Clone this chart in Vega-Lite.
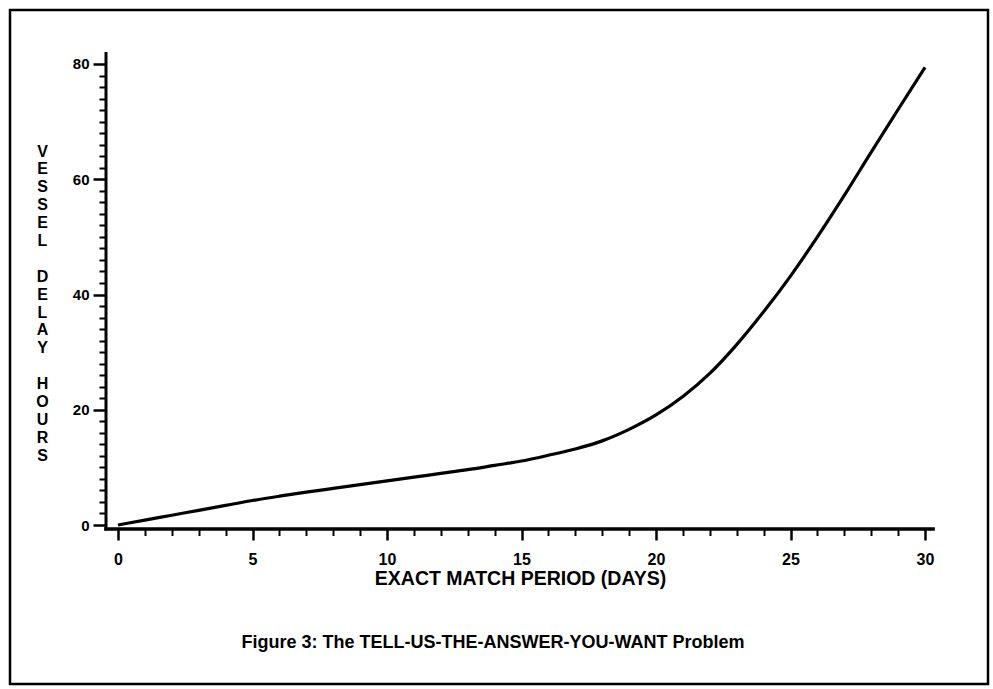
{
  "$schema": "https://vega.github.io/schema/vega-lite/v6.json",
  "width": 978,
  "height": 674,
  "autosize": {"type": "none"},
  "padding": {"left": 10, "top": 10, "right": 5, "bottom": 5},
  "background": "white",
  "title": {
    "text": "Figure 3: The TELL-US-THE-ANSWER-YOU-WANT Problem",
    "orient": "bottom",
    "anchor": "middle",
    "frame": "group",
    "offset": -50,
    "dx": -6,
    "font": "Liberation Sans",
    "fontSize": 18,
    "fontWeight": "bold",
    "color": "black"
  },
  "config": {
    "view": {"stroke": "black", "strokeWidth": 2.5},
    "font": "Liberation Sans"
  },
  "datasets": {
    "curve": [
      {"days": 0, "hours": 0},
      {"days": 1, "hours": 0.85},
      {"days": 2, "hours": 1.7},
      {"days": 3, "hours": 2.55},
      {"days": 4, "hours": 3.4},
      {"days": 5, "hours": 4.25},
      {"days": 6, "hours": 5.0},
      {"days": 7, "hours": 5.7},
      {"days": 8, "hours": 6.35},
      {"days": 9, "hours": 7.0},
      {"days": 10, "hours": 7.65},
      {"days": 11, "hours": 8.3},
      {"days": 12, "hours": 8.95},
      {"days": 13, "hours": 9.6},
      {"days": 14, "hours": 10.35},
      {"days": 15, "hours": 11.1},
      {"days": 16, "hours": 12.1},
      {"days": 17, "hours": 13.2},
      {"days": 18, "hours": 14.6},
      {"days": 19, "hours": 16.6},
      {"days": 20, "hours": 19.1},
      {"days": 21, "hours": 22.3},
      {"days": 22, "hours": 26.3},
      {"days": 23, "hours": 31.3},
      {"days": 24, "hours": 37.0},
      {"days": 25, "hours": 43.2},
      {"days": 26, "hours": 50.0},
      {"days": 27, "hours": 57.2},
      {"days": 28, "hours": 64.7},
      {"days": 29, "hours": 72.1},
      {"days": 30, "hours": 79.4}
    ],
    "xaxisline": [{"days": -0.446, "days_end": 30.3, "hours": -0.7}],
    "yaxisline": [{"days": -0.446, "hours": -0.7, "hours_end": 81.8}]
  },
  "encoding": {
    "x": {
      "field": "days",
      "type": "quantitative",
      "scale": {"domain": [-4.015, 32.342], "nice": false, "zero": false},
      "axis": {
        "orient": "bottom",
        "offset": -155,
        "domain": false,
        "grid": false,
        "values": [0,0.5,1,1.5,2,2.5,3,3.5,4,4.5,5,5.5,6,6.5,7,7.5,8,8.5,9,9.5,10,10.5,11,11.5,12,12.5,13,13.5,14,14.5,15,15.5,16,16.5,17,17.5,18,18.5,19,19.5,20,20.5,21,21.5,22,22.5,23,23.5,24,24.5,25,25.5,26,26.5,27,27.5,28,28.5,29,29.5,30],
        "tickSize": 11,
        "tickColor": "black",
        "tickWidth": {"condition": {"test": "datum.value % 5 !== 0", "value": 2}, "value": 2.5},
        "tickDash": {"condition": {"test": "datum.value % 5 !== 0", "value": [6.5, 40]}, "value": []},
        "format": "d",
        "labelExpr": "datum.value % 5 === 0 ? datum.label : ''",
        "labelFont": "Liberation Sans",
        "labelFontSize": 16,
        "labelFontWeight": "bold",
        "labelColor": "black",
        "labelPadding": 11,
        "labelOverlap": false,
        "labelFlush": false,
        "labelBound": false,
        "title": "EXACT MATCH PERIOD (DAYS)",
        "titleFont": "Liberation Sans",
        "titleFontSize": 19.5,
        "titleFontWeight": "bold",
        "titleColor": "black",
        "titleX": 510,
        "titleY": 40,
        "titleAlign": "center",
        "titleBaseline": "top"
      }
    },
    "y": {
      "field": "hours",
      "type": "quantitative",
      "scale": {"domain": [-27.59, 89.37], "nice": false, "zero": false},
      "axis": {
        "orient": "left",
        "offset": -96,
        "domain": false,
        "grid": false,
        "values": [0,2,4,6,8,10,12,14,16,18,20,22,24,26,28,30,32,34,36,38,40,42,44,46,48,50,52,54,56,58,60,62,64,66,68,70,72,74,76,78,80],
        "tickSize": 13,
        "tickColor": "black",
        "tickWidth": {"condition": {"test": "datum.value % 20 !== 0", "value": 2}, "value": 2.5},
        "tickDash": {"condition": {"test": "datum.value % 20 !== 0", "value": [7, 40]}, "value": []},
        "format": "d",
        "labelExpr": "datum.value % 20 === 0 ? datum.label : ''",
        "labelFont": "Liberation Sans",
        "labelFontSize": 15,
        "labelFontWeight": "bold",
        "labelColor": "black",
        "labelPadding": 4,
        "labelBaseline": "middle",
        "labelOverlap": false,
        "labelFlush": false,
        "labelBound": false,
        "title": ["V","E","S","S","E","L","\u2800","D","E","L","A","Y","\u2800","H","O","U","R","S"],
        "titleFont": "Liberation Sans",
        "titleFontSize": 16,
        "titleFontWeight": "bold",
        "titleColor": "black",
        "titleAngle": 0,
        "titleAlign": "center",
        "titleBaseline": "top",
        "titleLineHeight": 17.9,
        "titleX": -64,
        "titleY": 133
      }
    }
  },
  "layer": [
    {
      "data": {"name": "xaxisline"},
      "mark": {"type": "rule", "color": "black", "strokeWidth": 3.5, "strokeCap": "square"},
      "encoding": {"x2": {"field": "days_end"}}
    },
    {
      "data": {"name": "yaxisline"},
      "mark": {"type": "rule", "color": "black", "strokeWidth": 3, "strokeCap": "square"},
      "encoding": {"y2": {"field": "hours_end"}}
    },
    {
      "data": {"name": "curve"},
      "mark": {"type": "line", "color": "black", "strokeWidth": 3.2, "interpolate": "monotone"},
      "encoding": {}
    }
  ]
}
